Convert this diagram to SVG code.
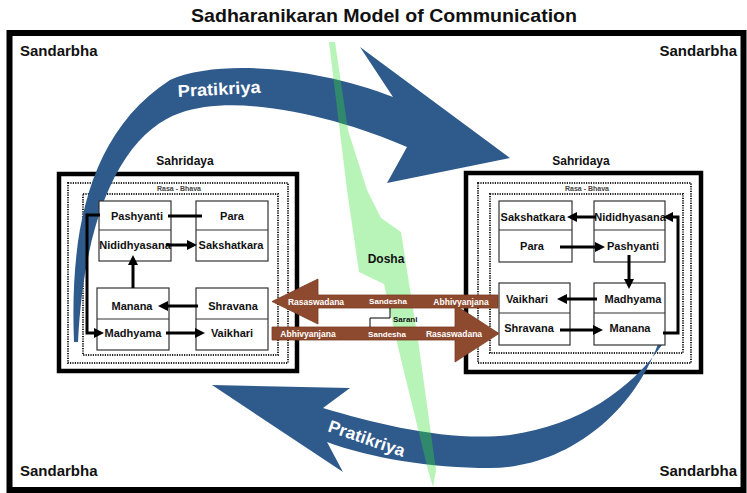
<svg xmlns="http://www.w3.org/2000/svg" width="747" height="493" viewBox="0 0 747 493">
<defs>
<style>
.t{font-family:"Liberation Sans",Arial,sans-serif;font-weight:bold;fill:#111}
.lbl{font-size:11px;text-anchor:middle}
.box{fill:#fff;stroke:#333;stroke-width:1.2}
.div{stroke:#333;stroke-width:1.2}
.conn{fill:none;stroke:#000;stroke-width:3}
.dot{fill:none;stroke:#222;stroke-width:2;stroke-dasharray:1.2 1.2}
.sah{fill:none;stroke:#000;stroke-width:4.5}
.blue{fill:#2f5a8c}
.brown{fill:#8e4a2e;stroke:#7a3c22;stroke-width:0.8}
.bt{font-family:"Liberation Sans",Arial,sans-serif;font-weight:bold;fill:#fff;text-anchor:middle}
.rb{font-size:7px;fill:#444;text-anchor:middle}
</style>
<marker id="ah" viewBox="0 0 10 10" markerUnits="userSpaceOnUse" markerWidth="10" markerHeight="10" refX="4" refY="5" orient="auto">
<path d="M0,0 L10,5 L0,10 z" fill="#000"/>
</marker>
</defs>
<rect width="747" height="493" fill="#fff"/>
<text class="t" x="384" y="22" font-size="19" text-anchor="middle" textLength="386" lengthAdjust="spacingAndGlyphs">Sadharanikaran Model of Communication</text>
<g id="frame">
<rect x="9.5" y="33" width="734" height="457" fill="none" stroke="#000" stroke-width="6"/>
<text class="t" x="20" y="56" font-size="15">Sandarbha</text>
<text class="t" x="737" y="56" font-size="15" text-anchor="end">Sandarbha</text>
<text class="t" x="20" y="476" font-size="15">Sandarbha</text>
<text class="t" x="737" y="476" font-size="15" text-anchor="end">Sandarbha</text>
</g>
<g id="sahridaya-left">
<rect class="sah" x="59" y="174" width="238" height="197"/>
<rect class="dot" x="68" y="183" width="220" height="180"/>
<rect class="dot" x="83" y="194" width="195" height="161"/>
<text class="t rb" x="179" y="191">Rasa - Bhava</text>
<text class="t" x="185" y="165" font-size="12" text-anchor="middle">Sahridaya</text>
</g>
<g id="sahridaya-right">
<rect class="sah" x="466" y="173" width="235" height="199"/>
<rect class="dot" x="478" y="183" width="213" height="180"/>
<rect class="dot" x="490" y="194" width="193" height="159"/>
<text class="t rb" x="587" y="191">Rasa - Bhava</text>
<text class="t" x="581" y="165" font-size="12" text-anchor="middle">Sahridaya</text>
</g>
<g id="pratikriya-top">
<path class="blue" d="M74,342 C70,240 85,135 170,80 C220,58 320,68 393,97 L360,47 L510,158 L387,183 L407,147 C340,118 240,92 180,113 C130,130 85,200 78,342 Z"/>
<text class="t" x="178" y="97" font-size="17" style="fill:#fff" textLength="83" lengthAdjust="spacingAndGlyphs" transform="rotate(-3 178 97)">Pratikriya</text>
</g>
<g id="pratikriya-bottom">
<path class="blue" d="M658,344 C630,420 560,468 490,468 C430,468 370,458 327,442 L343,472 L212,385 L350,388 L323,408 C380,425 450,442 510,435 C580,425 630,390 662,345 Z"/>
<text class="t" x="327" y="431" font-size="17" style="fill:#fff" textLength="80" lengthAdjust="spacingAndGlyphs" transform="rotate(19 327 431)">Pratikriya</text>
</g>
<g id="dosha">
<polygon points="329,42 335,42 348,130 367,190 381,218 401,232 419,347 436,470 433,487 428,470 398,347 384,284 359,272 347,190" fill="#33e033" fill-opacity="0.35"/>
<text class="t" x="386" y="263" font-size="12" text-anchor="middle">Dosha</text>
</g>
<g id="left-pashyanti">
<rect class="box" x="99" y="201" width="72" height="60"/>
<line class="div" x1="99" y1="230" x2="171" y2="230"/>
<text class="t lbl" x="137" y="220">Pashyanti</text>
<text class="t lbl" x="135" y="249">Nididhyasana</text>
</g>
<g id="left-para">
<rect class="box" x="196" y="201" width="72" height="60"/>
<line class="div" x1="196" y1="230" x2="268" y2="230"/>
<text class="t lbl" x="232" y="220">Para</text>
<text class="t lbl" x="231" y="249">Sakshatkara</text>
</g>
<g id="left-manana">
<rect class="box" x="97" y="288" width="72" height="62"/>
<line class="div" x1="97" y1="319" x2="169" y2="319"/>
<text class="t lbl" x="132" y="310">Manana</text>
<text class="t lbl" x="133" y="337">Madhyama</text>
</g>
<g id="left-shravana">
<rect class="box" x="196" y="288" width="72" height="62"/>
<line class="div" x1="196" y1="319" x2="268" y2="319"/>
<text class="t lbl" x="233" y="310">Shravana</text>
<text class="t lbl" x="232" y="337">Vaikhari</text>
</g>
<g id="right-sakshatkara">
<rect class="box" x="499" y="201" width="73" height="61"/>
<line class="div" x1="499" y1="230" x2="572" y2="230"/>
<text class="t lbl" x="533" y="221">Sakshatkara</text>
<text class="t lbl" x="532" y="250">Para</text>
</g>
<g id="right-nididhyasana">
<rect class="box" x="594" y="201" width="71" height="61"/>
<line class="div" x1="594" y1="230" x2="665" y2="230"/>
<text class="t lbl" x="630" y="221">Nididhyasana</text>
<text class="t lbl" x="633" y="250">Pashyanti</text>
</g>
<g id="right-vaikhari">
<rect class="box" x="499" y="283" width="71" height="62"/>
<line class="div" x1="499" y1="313" x2="570" y2="313"/>
<text class="t lbl" x="527" y="303">Vaikhari</text>
<text class="t lbl" x="529" y="332">Shravana</text>
</g>
<g id="right-madhyama">
<rect class="box" x="594" y="283" width="71" height="62"/>
<line class="div" x1="594" y1="313" x2="665" y2="313"/>
<text class="t lbl" x="633" y="303">Madhyama</text>
<text class="t lbl" x="630" y="332">Manana</text>
</g>
<g id="connectors">
<path class="conn" d="M168,216 H202"/>
<path class="conn" d="M100,215 H87 V333 H98" marker-end="url(#ah)"/>
<path class="conn" d="M166,245 H191" marker-end="url(#ah)"/>
<path class="conn" d="M133,288 V261" marker-end="url(#ah)"/>
<path class="conn" d="M198,306 H164" marker-end="url(#ah)"/>
<path class="conn" d="M166,333 H199" marker-end="url(#ah)"/>
<path class="conn" d="M596,217 H573" marker-end="url(#ah)"/>
<path class="conn" d="M560,247 H599" marker-end="url(#ah)"/>
<path class="conn" d="M629,255 V283" marker-end="url(#ah)"/>
<path class="conn" d="M597,299 H563" marker-end="url(#ah)"/>
<path class="conn" d="M560,330 H597" marker-end="url(#ah)"/>
<path class="conn" d="M663,333 H678 V217 H669" marker-end="url(#ah)"/>
</g>
<g id="sandesha-upper">
<path class="brown" d="M272,301.5 L318,279 L318,295 L498,295 L498,308 L318,308 L318,324 Z"/>
<text class="bt" x="316" y="305" font-size="8.5">Rasaswadana</text>
<text class="bt" x="388" y="304" font-size="8">Sandesha</text>
<text class="bt" x="461" y="305" font-size="8.5">Abhivyanjana</text>
</g>
<g id="sandesha-lower">
<path class="brown" d="M272,327 L455,327 L455,305 L499,333.5 L455,362 L455,340 L272,340 Z"/>
<text class="bt" x="308" y="337" font-size="8.5">Abhivyanjana</text>
<text class="bt" x="387" y="337" font-size="8">Sandesha</text>
<text class="bt" x="454" y="337" font-size="8.5">Rasaswadana</text>
</g>
<g id="sarani">
<path d="M390,308 V318 H370 V327" fill="none" stroke="#000" stroke-width="1"/>
<text class="t" x="393" y="322" font-size="8">Sarani</text>
</g>
</svg>
